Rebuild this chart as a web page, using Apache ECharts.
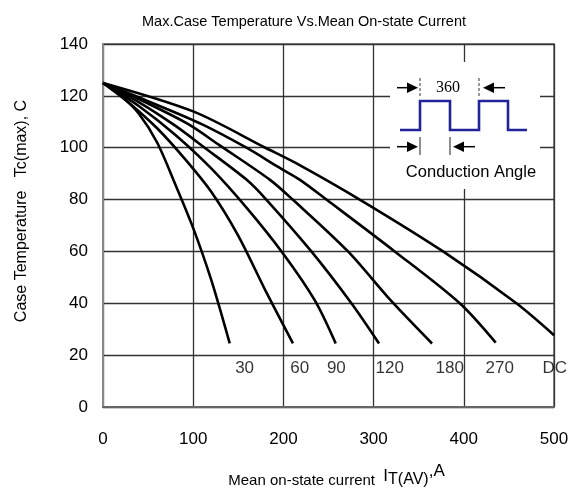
<!DOCTYPE html>
<html>
<head>
<meta charset="utf-8">
<script src="https://cdn.jsdelivr.net/npm/echarts@6/dist/echarts.min.js"></script>
<style>html,body{margin:0;padding:0;background:#fff;}#c{width:576px;height:501px;}</style>
</head>
<body>
<div id="c"></div>
<script>
// Data (current A, case temperature C)
var c30  = [[0,125],[20,120],[40,113],[60,102],[80,86],[100,69],[120,49],[140.5,24.5]];
var c60  = [[0,125],[30,117],[60,107.5],[90,96],[120,83],[150,66],[180,45],[210.6,24.5]];
var c90  = [[0,125],[40,116],[80,105],[120,92],[160,76.5],[200,59],[235,41],[258,24.5]];
var c120 = [[0,125],[40,117.5],[80,108.5],[112.7,100],[159,87.7],[181,80],[231,60],[275.4,40],[306,24.5]];
var c180 = [[0,125],[50,117],[95,109],[129,101],[184.8,87.7],[210.3,80],[271.6,60],[318,41.5],[364.8,24.5]];
var c270 = [[0,125],[60,116.5],[110,109],[159,100],[196,92.2],[218,87.7],[247.7,80],[323.4,60],[395.5,40],[435.4,24.8]];
var cDC  = [[0,125],[100,114],[180,100],[218,93.3],[284.6,80],[377,60],[458.3,40],[500,27.7]];
var curveNames = ['30','60','90','120','180','270','DC'];
var curveLabels = [[157,15,'30'],[218,15,'60'],[258.7,15,'90'],[317.8,15,'120'],[384.4,15,'180'],[439.8,15,'270'],[500.8,15,'DC']];
var xTicks = [0,100,200,300,400,500];
var yTicks = [0,20,40,60,80,100,120,140];

var FONT = 'Liberation Sans, Arial, sans-serif';
var chart = echarts.init(document.getElementById('c'));
var curves = [c30,c60,c90,c120,c180,c270,cDC];
var series = curves.map(function(d,i){
  return {name: curveNames[i], type:'line', data:d, smooth:0.3, symbol:'none',
    lineStyle:{color:'#000', width:2.6}, z:3};
});
series.push({type:'scatter', data:curveLabels, symbolSize:0, silent:true, clip:false,
  label:{show:true, position:'inside', formatter:function(p){return p.data[2];},
    color:'#000', fontSize:17, fontFamily:FONT}});

var navy = '#22229a';
var graphic = [
  {type:'rect', shape:{x:390,y:62,width:150,height:127}, style:{fill:'#fff'}, z:10},
  {type:'polyline', shape:{points:[[400,130],[420,130],[420,101],[450,101],[450,130],[479,130],[479,101],[508,101],[508,130],[527,130]]},
    style:{stroke:navy, lineWidth:2.6, fill:null}, z:11},
  // top arrows
  {type:'line', shape:{x1:397,y1:87.7,x2:410,y2:87.7}, style:{stroke:'#000',lineWidth:1.5}, z:11},
  {type:'polygon', shape:{points:[[418,87.7],[407,82.5],[407,93]]}, style:{fill:'#000'}, z:11},
  {type:'line', shape:{x1:420,y1:78,x2:420,y2:96}, style:{stroke:'#555',lineWidth:1.2,lineDash:[3,2]}, z:11},
  {type:'line', shape:{x1:479,y1:78,x2:479,y2:96}, style:{stroke:'#555',lineWidth:1.2,lineDash:[3,2]}, z:11},
  {type:'line', shape:{x1:492,y1:87.7,x2:505,y2:87.7}, style:{stroke:'#000',lineWidth:1.5}, z:11},
  {type:'polygon', shape:{points:[[483,87.7],[494,82.5],[494,93]]}, style:{fill:'#000'}, z:11},
  {type:'text', style:{text:'360', x:448, y:88, align:'center', verticalAlign:'middle', fontSize:16, fontFamily:'Liberation Serif, Times New Roman, serif', fill:'#000'}, z:11},
  // bottom arrows
  {type:'line', shape:{x1:397,y1:146.7,x2:410,y2:146.7}, style:{stroke:'#000',lineWidth:1.5}, z:11},
  {type:'polygon', shape:{points:[[418,146.7],[407,141.5],[407,152]]}, style:{fill:'#000'}, z:11},
  {type:'line', shape:{x1:420,y1:137,x2:420,y2:155}, style:{stroke:'#444',lineWidth:1.2}, z:11},
  {type:'line', shape:{x1:450,y1:137,x2:450,y2:155}, style:{stroke:'#444',lineWidth:1.2}, z:11},
  {type:'line', shape:{x1:462,y1:146.7,x2:475,y2:146.7}, style:{stroke:'#000',lineWidth:1.5}, z:11},
  {type:'polygon', shape:{points:[[453,146.7],[464,141.5],[464,152]]}, style:{fill:'#000'}, z:11},
  {type:'text', style:{text:'Conduction Angle', x:471, y:172, align:'center', verticalAlign:'middle', fontSize:16.5, fontFamily:FONT, fill:'#000'}, z:11},
  // y axis title
  {type:'text', rotation:Math.PI/2, x:22, y:211, style:{text:'Case Temperature   Tc(max), C', align:'center', verticalAlign:'middle', fontSize:16, fontFamily:FONT, fill:'#000'}, z:11}
];

chart.setOption({
  animation:false,
  backgroundColor:'#fff',
  title:{text:'Max.Case Temperature Vs.Mean On-state Current', left:299, top:9, textAlign:'center',
    textStyle:{fontSize:14.5, fontWeight:'normal', color:'#000', fontFamily:FONT}},
  grid:{left:103, right:22, top:44, bottom:94, show:true, borderColor:'#888', borderWidth:2, backgroundColor:'transparent'},
  xAxis:{type:'value', min:xTicks[0], max:xTicks[xTicks.length-1], interval:100,
    name:'{a|Mean on-state current  }{b|I}{c|T(AV)}{d|,A}', nameLocation:'middle', nameGap:56,
    nameTextStyle:{rich:{
      a:{fontSize:15, fontFamily:FONT, color:'#000', verticalAlign:'bottom', padding:[0,0,0,16]},
      b:{fontSize:17, fontFamily:FONT, color:'#000', verticalAlign:'bottom', padding:[0,0,3,0]},
      c:{fontSize:16, fontFamily:FONT, color:'#000', verticalAlign:'bottom'},
      d:{fontSize:17, fontFamily:FONT, color:'#000', verticalAlign:'bottom', padding:[0,0,8,0]}
    }},
    axisLine:{lineStyle:{color:'#666', width:2}}, axisTick:{show:false},
    axisLabel:{fontSize:17, color:'#000', fontFamily:FONT, margin:24},
    splitLine:{show:true, lineStyle:{color:'#333', width:1.3}}},
  yAxis:{type:'value', min:yTicks[0], max:yTicks[yTicks.length-1], interval:20,
    axisLine:{show:true, lineStyle:{color:'#888', width:2}}, axisTick:{show:false},
    axisLabel:{fontSize:17, color:'#000', fontFamily:FONT, margin:15},
    splitLine:{show:true, lineStyle:{color:'#333', width:1.3}}},
  graphic:graphic,
  series:series
});
</script>
</body>
</html>
